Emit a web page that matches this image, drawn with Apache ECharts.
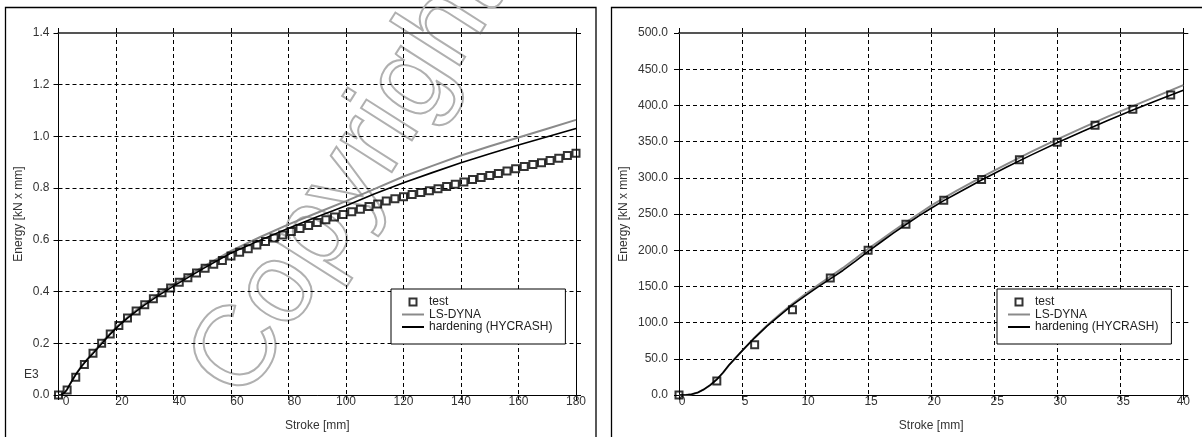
<!DOCTYPE html>
<html><head><meta charset="utf-8">
<script src="https://cdn.jsdelivr.net/npm/echarts@6/dist/echarts.min.js"></script>
<style>html,body{margin:0;padding:0;background:#fff}#c{width:1202px;height:437px}</style>
</head><body><div id="c"></div>
<script>
// ---------- data ----------
const seriesNames = ['test', 'LS-DYNA', 'hardening (HYCRASH)'];

// Left panel: Energy in E3 [kN x mm]
const leftTestX = [0,3,6,9,12,15,18,21,24,27,30,33,36,39,42,45,48,51,54,57,60,63,66,69,72,75,78,81,84,87,90,93,96,99,102,105,108,111,114,117,120,123,126,129,132,135,138,141,144,147,150,153,156,159,162,165,168,171,174,177,180];
const leftTestE = [0,0.019,0.069,0.118,0.1615,0.2,0.236,0.269,0.298,0.325,0.349,0.372,0.395,0.414,0.436,0.453,0.472,0.490,0.506,0.520,0.538,0.552,0.566,0.580,0.594,0.607,0.619,0.632,0.644,0.656,0.667,0.678,0.688,0.698,0.709,0.718,0.729,0.739,0.750,0.759,0.767,0.775,0.783,0.790,0.798,0.806,0.815,0.824,0.833,0.841,0.849,0.857,0.866,0.875,0.884,0.891,0.898,0.907,0.916,0.926,0.935];
const leftCurveX = [0,1,2,3,4,5,6,8,10,12,15,18,21,24,27,30,35,40,50,60,70,80,90,100,110,120,130,140,150,160,170,180];
const leftLsDyna = [0,0.001,0.008,0.0215,0.042,0.061,0.0795,0.1115,0.139,0.1635,0.202,0.2385,0.272,0.301,0.3275,0.353,0.392,0.428,0.494,0.557,0.610,0.660,0.705,0.750,0.797,0.845,0.886,0.926,0.962,0.996,1.030,1.064];
const leftHycrash = [0,0.001,0.008,0.0215,0.042,0.061,0.079,0.110,0.137,0.1605,0.1985,0.2355,0.2685,0.297,0.3235,0.3485,0.386,0.421,0.487,0.549,0.598,0.645,0.689,0.732,0.778,0.821,0.860,0.898,0.933,0.967,0.999,1.031];

// Right panel: Energy [kN x mm], first 40 mm
const rightTestX = [0,3,6,9,12,15,18,21,24,27,30,33,36,39];
const rightTestE = [0,19.2,69.3,117.7,161.5,199.8,235.8,268.9,297.8,324.8,349,372.7,394.6,414.2];
const rightCurveX = [0,0.5,1,1.5,2,2.5,3,3.5,4,4.5,5,6,7,8,9,10,11,12,13,14,15,16,17,18,19,20,21,22,24,26,28,30,32,34,36,38,40];
const rightLsDyna = [0,0,1,3.5,8,14,21.5,31,42,51.5,61,79.5,96.5,111.5,126,139,151.5,163.5,175.5,188.5,202,214,226.5,238.5,250,261.5,272,282,301,319,336.5,353,369,384.5,399,413.5,428];
const rightHycrash = [0,0,1,3.5,8,14,21.5,31,42,51.5,61,79,95.5,110,124.5,137,149,160.5,172,185,198.5,211,223.5,235.5,247,258,268.5,278,297,315,332,348.5,364,379,393.5,407.5,421];

// tick settings
const leftX = {min:0, max:180, step:20};
const leftY = {min:0, max:1.4, step:0.2};
const rightX = {min:0, max:40, step:5};
const rightY = {min:0, max:500, step:50};
// ----------------------------------------------------

const FONT = '"Liberation Sans", Arial, sans-serif';
const LABEL = '#333';
const GRAY = '#8a8a8a';
const pairs = (xs, ys) => xs.map((x, i) => [x, ys[i]]);
const dashed = {show:true, lineStyle:{color:'#000', width:1, type:[4,3]}};
const tick = {show:true, inside:false, length:5, lineStyle:{color:'#000', width:1}};

function bottomX(grid, r, padFn) {
  return {
    type:'value', gridIndex:grid, position:'bottom', min:r.min, max:r.max, interval:r.step,
    axisLine:{show:true, onZero:false, lineStyle:{color:'#000', width:1}},
    axisTick:tick, splitLine:dashed,
    axisLabel:{margin:1, formatter:v => '{p' + padFn(v) + '|' + v + '}',
      rich:{p0:{padding:[0,0,0,0],fontSize:12,fontFamily:FONT,color:LABEL},
            p6:{padding:[0,0,0,6],fontSize:12,fontFamily:FONT,color:LABEL},
            p12:{padding:[0,0,0,12],fontSize:12,fontFamily:FONT,color:LABEL},
            p15:{padding:[0,0,0,15],fontSize:12,fontFamily:FONT,color:LABEL}}},
    name:'Stroke [mm]', nameLocation:'middle', nameGap:25,
    nameTextStyle:{fontSize:12, fontFamily:FONT, color:LABEL}
  };
}
function topX(grid, r) {
  return {
    type:'value', gridIndex:grid, position:'top', min:r.min, max:r.max, interval:r.step,
    axisLine:{show:true, onZero:false, lineStyle:{color:'#555', width:2}},
    axisTick:tick, splitLine:{show:false}, axisLabel:{show:false}
  };
}
function leftYAxis(grid, r, gap, margin) {
  return {
    type:'value', gridIndex:grid, position:'left', min:r.min, max:r.max, interval:r.step,
    axisLine:{show:true, onZero:false, lineStyle:{color:'#000', width:1}},
    axisTick:tick, splitLine:dashed,
    axisLabel:{margin:margin, fontSize:12, fontFamily:FONT, color:LABEL, formatter:v => v.toFixed(1)},
    name:'Energy [kN x mm]', nameLocation:'middle', nameGap:gap, nameRotate:90,
    nameTextStyle:{fontSize:12, fontFamily:FONT, color:LABEL}
  };
}
function rightYAxis(grid, r) {
  return {
    type:'value', gridIndex:grid, position:'right', min:r.min, max:r.max, interval:r.step,
    axisLine:{show:true, onZero:false, lineStyle:{color:'#000', width:1}},
    axisTick:tick, splitLine:{show:false}, axisLabel:{show:false}
  };
}
function seriesFor(ax, curveX, lsd, hyc, tx, ty) {
  return [
    {name:seriesNames[1], type:'line', xAxisIndex:ax, yAxisIndex:ax, data:pairs(curveX, lsd),
     symbol:'none', smooth:false, lineStyle:{color:GRAY, width:2}, itemStyle:{color:GRAY}, z:2},
    {name:seriesNames[2], type:'line', xAxisIndex:ax, yAxisIndex:ax, data:pairs(curveX, hyc),
     symbol:'none', smooth:false, lineStyle:{color:'#000', width:1.6}, itemStyle:{color:'#000'}, z:3},
    {name:seriesNames[0], type:'scatter', xAxisIndex:ax, yAxisIndex:ax, data:pairs(tx, ty),
     symbol:'rect', symbolSize:7, clip:false,
     itemStyle:{color:'rgba(255,255,255,0)', borderColor:'#000', borderWidth:2}, z:4}
  ];
}
function legendAt(left) {
  return {
    left:left, top:289, orient:'vertical', itemWidth:22, itemHeight:7, itemGap:0.5, itemTextGap:9,
    padding:[7,13,11,11], borderColor:'#000', borderWidth:1, backgroundColor:'#fff',
    selectedMode:false, align:'left',
    textStyle:{fontSize:12, fontFamily:FONT, color:'#222', lineHeight:12},
    data:[
      {name:seriesNames[0], icon:'path://M0 0H10V10H0Z',
       itemStyle:{color:'#fff', borderColor:'#000', borderWidth:2}},
      {name:seriesNames[1], icon:'path://M0 0H22V2H0Z', itemStyle:{color:GRAY, borderWidth:0}},
      {name:seriesNames[2], icon:'path://M0 0H22V2H0Z', itemStyle:{color:'#000', borderWidth:0}}
    ]
  };
}

const chart = echarts.init(document.getElementById('c'), null, {renderer:'canvas'});
chart.setOption({
  backgroundColor:'#fff',
  animation:false,
  grid:[
    {left:58.5, top:33, width:517.5, height:365.3, containLabel:false},
    {left:679, top:33, width:504.3, height:365.3, containLabel:false}
  ],
  xAxis:[
    bottomX(0, leftX, v => v === 0 ? 15 : (v < 100 ? 12 : 0)),
    topX(0, leftX),
    bottomX(1, rightX, v => v === 40 ? 0 : 6),
    topX(1, rightX)
  ],
  yAxis:[
    leftYAxis(0, leftY, 34, 9),
    rightYAxis(0, leftY),
    leftYAxis(1, rightY, 49, 11),
    rightYAxis(1, rightY)
  ],
  legend:[legendAt(391), legendAt(997)],
  series:[
    ...seriesFor(0, leftCurveX, leftLsDyna, leftHycrash, leftTestX, leftTestE),
    ...seriesFor(2, rightCurveX, rightLsDyna, rightHycrash, rightTestX, rightTestE)
  ],
  graphic:[
    {type:'rect', silent:true, z:-10, shape:{x:5.5, y:7.5, width:590.5, height:500},
     style:{fill:'none', stroke:'#000', lineWidth:1.3}},
    {type:'rect', silent:true, z:-10, shape:{x:611.5, y:7.5, width:700, height:500},
     style:{fill:'none', stroke:'#000', lineWidth:1.3}},
    {type:'text', silent:true, x:24, y:369, style:{text:'E3', font:'12px ' + FONT, fill:LABEL}},
    {type:'text', silent:true, z:-5, x:266, y:417, rotation:57.5 * Math.PI / 180,
     style:{text:'Copyright', font:'114px ' + FONT, fill:'none', stroke:'#b0b0b0', lineWidth:2,
            textAlign:'left', textVerticalAlign:'bottom'}}
  ]
});
</script></body></html>
